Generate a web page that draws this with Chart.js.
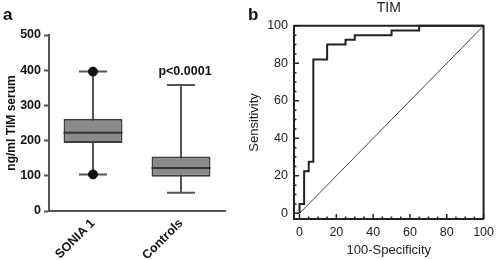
<!DOCTYPE html>
<html>
<head>
<meta charset="utf-8">
<script src="https://cdn.jsdelivr.net/npm/chart.js@4.4.1/dist/chart.umd.min.js"></script>
<style>
  body { margin: 0; background: #fff; }
  #wrap { position: relative; width: 500px; height: 260px; }
  canvas { position: absolute; top: 0; }
</style>
</head>
<body>
<div id="wrap">
  <canvas id="chartA" width="250" height="260" style="left:0"></canvas>
  <canvas id="chartB" width="255" height="260" style="left:245px"></canvas>
</div>
<script>
// panel a: box plot
const groups = ["SONIA 1", "Controls"];
const whiskerLow = [104, 52];
const q1 = [193, 97];
const median = [222, 122];
const q3 = [262, 155];
const whiskerHigh = [396, 358];
const dotGroups = ["SONIA 1", "SONIA 1"];
const dotValues = [396, 104];
const yTicksA = [0, 100, 200, 300, 400, 500];
const pValueText = "p<0.0001";

// panel b: ROC curve
const rocFpr = [0, 0, 2.5, 5, 7.5, 15, 25, 30, 50, 65, 100];
const rocTpr = [0, 5, 22.5, 27.5, 82, 90, 92.5, 95, 97.5, 100, 100];
const refLine = [0, 100];
const rocTickValues = [0, 5, 10, 15, 20, 25, 30, 35, 40, 45, 50, 55, 60, 65, 70, 75, 80, 85, 90, 95, 100];
const rocTickLabels = [0, 20, 40, 60, 80, 100];

Chart.defaults.font.family = "'Liberation Sans', Arial, sans-serif";
Chart.defaults.animation = false;

const panelLetter = (letter) => ({
  id: "panelLetter",
  afterDraw(chart) {
    const ctx = chart.ctx;
    ctx.save();
    ctx.font = "bold 17px 'Liberation Sans', Arial, sans-serif";
    ctx.fillStyle = "#111";
    ctx.textBaseline = "alphabetic";
    ctx.fillText(letter, 3, 20);
    ctx.restore();
  }
});

const boxParts = {
  id: "boxParts",
  beforeDatasetsDraw(chart) {
    const ctx = chart.ctx;
    const xs = chart.scales.x, ys = chart.scales.y;
    ctx.save();
    ctx.strokeStyle = "#555";
    ctx.lineWidth = 2;
    groups.forEach((g, i) => {
      const x = xs.getPixelForValue(i);
      ctx.beginPath();
      ctx.moveTo(x, ys.getPixelForValue(whiskerLow[i]));
      ctx.lineTo(x, ys.getPixelForValue(whiskerHigh[i]));
      [whiskerLow[i], whiskerHigh[i]].forEach(v => {
        const y = ys.getPixelForValue(v);
        ctx.moveTo(x - 14, y);
        ctx.lineTo(x + 14, y);
      });
      ctx.stroke();
    });
    ctx.restore();
  },
  afterDatasetsDraw(chart) {
    const ctx = chart.ctx;
    const xs = chart.scales.x, ys = chart.scales.y;
    const bars = chart.getDatasetMeta(0).data;
    ctx.save();
    ctx.strokeStyle = "#333";
    ctx.lineWidth = 2;
    groups.forEach((g, i) => {
      const x = xs.getPixelForValue(i);
      const half = bars[i].width / 2;
      const y = ys.getPixelForValue(median[i]);
      ctx.beginPath();
      ctx.moveTo(x - half, y);
      ctx.lineTo(x + half, y);
      ctx.stroke();
    });
    // significance label above controls
    ctx.font = "bold 12.5px 'Liberation Sans', Arial, sans-serif";
    ctx.fillStyle = "#111";
    ctx.textAlign = "center";
    ctx.textBaseline = "middle";
    ctx.fillText(pValueText, xs.getPixelForValue(1) + 4, ys.getPixelForValue(whiskerHigh[1]) - 13);
    ctx.restore();
  }
};

new Chart(document.getElementById("chartA"), {
  type: "bar",
  data: {
    labels: groups,
    datasets: [
      {
        data: groups.map((g, i) => [q1[i], q3[i]]),
        backgroundColor: "#8a8a8a",
        borderColor: "#3c3c3c",
        borderWidth: 2,
        borderSkipped: false,
        barPercentage: 0.67,
        categoryPercentage: 1
      },
      {
        type: "line",
        data: dotGroups.map((g, i) => ({ x: g, y: dotValues[i] })),
        showLine: false,
        pointRadius: 4.5,
        pointBackgroundColor: "#111",
        pointBorderColor: "#111"
      }
    ]
  },
  options: {
    responsive: false,
    layout: { padding: { top: 35, right: 25, left: 0, bottom: 0 } },
    plugins: { legend: { display: false }, tooltip: { enabled: false } },
    scales: {
      x: {
        grid: { display: false, drawTicks: false },
        border: { color: "#555", width: 2 },
        ticks: {
          font: { size: 12.5, weight: "bold" },
          color: "#111",
          maxRotation: 45,
          minRotation: 45,
          padding: 5
        },
        afterFit: s => { s.height = 49; }
      },
      y: {
        min: 0,
        max: 500,
        afterBuildTicks: s => { s.ticks = yTicksA.map(v => ({ value: v })); },
        grid: { drawOnChartArea: false, drawTicks: true, tickLength: 5, tickColor: "#555", tickWidth: 2 },
        border: { color: "#555", width: 2 },
        ticks: { font: { size: 12.5, weight: "bold" }, color: "#111", padding: 3 },
        title: {
          display: true,
          text: "ng/ml TIM serum",
          font: { size: 12, weight: "bold" },
          color: "#111",
          padding: { top: 4, bottom: 0 }
        },
        afterFit: s => { s.width = 49; }
      }
    }
  },
  plugins: [boxParts, panelLetter("a")]
});

const rocFrame = {
  id: "rocFrame",
  afterDraw(chart) {
    const ctx = chart.ctx;
    const a = chart.chartArea;
    const xs = chart.scales.x, ys = chart.scales.y;
    ctx.save();
    ctx.strokeStyle = "#222";
    ctx.lineWidth = 2;
    ctx.beginPath();
    ctx.moveTo(a.left, a.top);
    ctx.lineTo(a.right, a.top);
    ctx.lineTo(a.right, a.bottom);
    ctx.stroke();
    ctx.lineWidth = 1.5;
    ctx.beginPath();
    rocTickValues.forEach(v => {
      const len = rocTickLabels.includes(v) ? 5 : 2.5;
      const x = xs.getPixelForValue(v);
      ctx.moveTo(x, a.bottom);
      ctx.lineTo(x, a.bottom - len);
      const y = ys.getPixelForValue(v);
      ctx.moveTo(a.left, y);
      ctx.lineTo(a.left + len, y);
    });
    ctx.stroke();
    ctx.restore();
  }
};

const rocAxis = (titleText, sizeFn) => ({
  type: "linear",
  min: -3,
  max: 100,
  afterBuildTicks: s => { s.ticks = rocTickValues.map(v => ({ value: v })); },
  grid: { display: false, drawTicks: false },
  border: { color: "#222", width: 2 },
  ticks: {
    autoSkip: false,
    maxRotation: 0,
    font: { size: 12.5 },
    color: "#222",
    padding: 6,
    callback: v => rocTickLabels.includes(v) ? String(v) : ""
  },
  title: { display: true, text: titleText, font: { size: 13 }, color: "#222", padding: { top: 2, bottom: 2 } },
  afterFit: sizeFn
});

new Chart(document.getElementById("chartB"), {
  type: "line",
  data: {
    datasets: [
      {
        data: rocFpr.map((x, i) => ({ x: x, y: rocTpr[i] })),
        stepped: "before",
        borderColor: "#222",
        borderWidth: 2,
        pointRadius: 0,
        fill: false,
        clip: 4
      },
      {
        data: refLine.map(v => ({ x: v, y: v })),
        borderColor: "#444",
        borderWidth: 1,
        pointRadius: 0,
        fill: false
      }
    ]
  },
  options: {
    responsive: false,
    layout: { padding: { top: 0, right: 12, left: 0, bottom: 0 } },
    plugins: {
      legend: { display: false },
      tooltip: { enabled: false },
      title: {
        display: true,
        text: "TIM",
        fullSize: false,
        font: { size: 14, weight: "normal" },
        color: "#222",
        padding: { top: 0, bottom: 9 }
      }
    },
    scales: {
      x: rocAxis("100-Specificity", s => { s.height = 41; }),
      y: rocAxis("Sensitivity", s => { s.width = 49; })
    }
  },
  plugins: [rocFrame, panelLetter("b")]
});
</script>
</body>
</html>
